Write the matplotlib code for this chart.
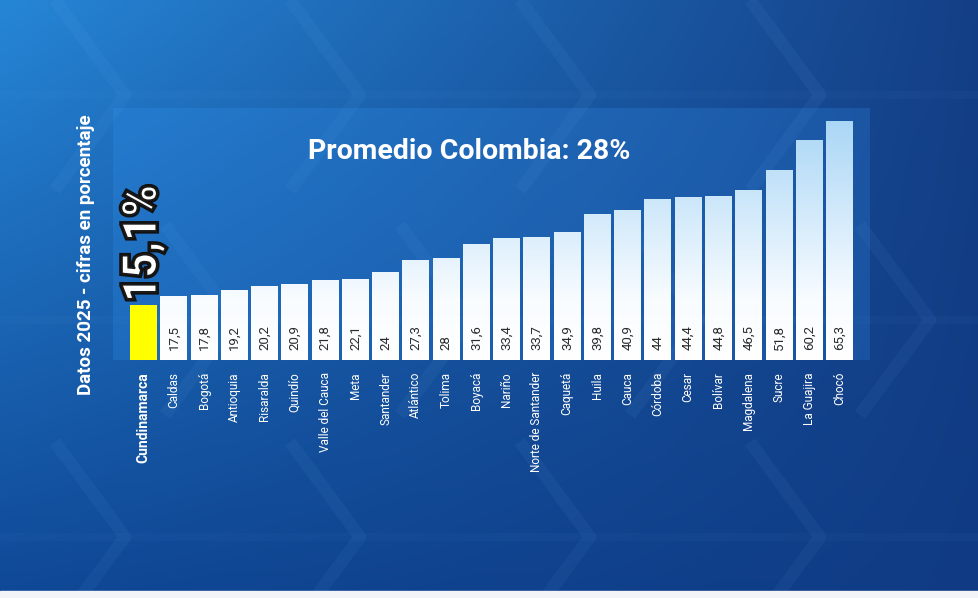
import numpy as np
import matplotlib.pyplot as plt
import matplotlib.patheffects as pe
from matplotlib import font_manager
from matplotlib.colors import LinearSegmentedColormap, to_rgb
from matplotlib.textpath import TextPath
from matplotlib.patches import PathPatch
from matplotlib.transforms import Affine2D

departamentos = ['Cundinamarca', 'Caldas', 'Bogotá', 'Antioquia', 'Risaralda', 'Quindío',
                 'Valle del Cauca', 'Meta', 'Santander', 'Atlántico', 'Tolima', 'Boyacá',
                 'Nariño', 'Norte de Santander', 'Caquetá', 'Huila', 'Cauca', 'Córdoba',
                 'Cesar', 'Bolívar', 'Magdalena', 'Sucre', 'La Guajira', 'Chocó']
valores = [15.1, 17.5, 17.8, 19.2, 20.2, 20.9, 21.8, 22.1, 24, 27.3, 28, 31.6,
           33.4, 33.7, 34.9, 39.8, 40.9, 44, 44.4, 44.8, 46.5, 51.8, 60.2, 65.3]
etiquetas = ['', '17,5', '17,8', '19,2', '20,2', '20,9', '21,8', '22,1', '24', '27,3', '28',
             '31,6', '33,4', '33,7', '34,9', '39,8', '40,9', '44', '44,4', '44,8', '46,5',
             '51,8', '60,2', '65,3']
promedio = 28
destacado = '15,1%'

names = {f.name for f in font_manager.fontManager.ttflist}
narrow = 'Liberation Sans Narrow' if 'Liberation Sans Narrow' in names else 'Roboto'
fam = [narrow, 'DejaVu Sans']

W, H = 979, 598
fig = plt.figure(figsize=(W / 100, H / 100), dpi=100)

# background
bg = fig.add_axes([0, 0, 1, 1])
bg.set_xlim(0, W)
bg.set_ylim(H, 0)
bg.axis('off')
tl, tr = np.array(to_rgb('#2686d6')), np.array(to_rgb('#143f86'))
bl, br = np.array(to_rgb('#0f4896')), np.array(to_rgb('#103b84'))
u = np.linspace(0, 1, 200)[None, :, None]
v = np.linspace(0, 1, 120)[:, None, None]
img = (1 - v) * ((1 - u) * tl + u * tr) + v * ((1 - u) * bl + u * br)
bg.imshow(img, extent=[0, W, H, 0], aspect='auto', interpolation='bicubic')
# faint chevrons
for cy in [95, 320, 537]:
    for cx in [125, 360, 590, 820]:
        off = 110 if cy == 320 else 0
        xc = cx + off
        bg.plot([xc - 70, xc, xc - 70], [cy - 95, cy, cy + 95], color='#7fc4ff',
                alpha=0.06, lw=9, solid_capstyle='butt')
    bg.plot([0, W], [cy, cy], color='#7fc4ff', alpha=0.03, lw=6)
bg.add_patch(plt.Rectangle((0, 591), W, 7, color='#f2f4f7', zorder=5))

# chart
base_px, top_px = 360, 108
left_px, right_px = 113, 870
step = (839.5 - 143.5) / 23
x0l = -(143.5 - left_px) / step
x0r = (right_px - 143.5) / step
ax = fig.add_axes([left_px / W, (H - base_px) / H, (right_px - left_px) / W,
                   (base_px - top_px) / H])
ax.set_facecolor((0.22, 0.62, 1.0, 0.2))
for s in ax.spines.values():
    s.set_visible(False)
ax.set_xticks([])
ax.set_yticks([])
x = np.arange(len(valores))

cmap = LinearSegmentedColormap.from_list('b', [(0, '#ffffff'), (0.25, '#f8fcff'), (1, '#a9d6f6')])
grad = np.linspace(0, 1, 256)[:, None]
colors = ['#ffff00'] + [None] * (len(valores) - 1)
bars = ax.bar(x, valores, width=0.89, color='none', edgecolor='none')
for b, c in zip(bars, colors):
    if c is not None:
        b.set_facecolor(c)
        continue
    im = ax.imshow(grad, extent=[x0l, x0r, 0, 66], origin='lower', cmap=cmap,
                   aspect='auto', zorder=2)
    im.set_clip_path(b)
ax.set_xlim(x0l, x0r)
ax.set_ylim(0, (base_px - top_px) / 3.66)

for xi, t in zip(x, etiquetas):
    if t:
        ax.text(xi, 2.6, t, rotation=90, ha='center', va='bottom', fontsize=9.5,
                color='#2b2b2b', family=fam, zorder=3)

for xi, name in zip(x, departamentos):
    bold = xi == 0
    ax.text(xi, -3.3, name, rotation=90, ha='center', va='top', color='white',
            fontsize=10 if bold else 8.5, fontweight='bold' if bold else 'normal',
            family=fam, clip_on=False)

# condensed big label above the highlighted bar
tp = TextPath((0, 0), destacado, size=1,
              prop=font_manager.FontProperties(family='Roboto', weight='black'))
e = tp.get_extents()
length, height = 112, 44
bx, by = ax.transData.transform((0, valores[0]))
tr_big = (Affine2D().translate(-e.x0, -e.y0)
          .scale(length / e.width, height / e.height)
          .rotate_deg(90)
          .translate(bx + height / 2, by + 6))
big = PathPatch(tp, transform=tr_big, facecolor='white', edgecolor='#1a1a1a', lw=1.2,
                clip_on=False, zorder=6)
big.set_path_effects([pe.withStroke(linewidth=4, foreground='#111111'), pe.Normal()])
fig.add_artist(big)

ax.text((469 - 143.5) / step, 57, f'Promedio Colombia: {promedio}%', ha='center',
        va='center', fontsize=20.5, fontweight='bold', color='white', family=fam)

fig.text(86 / W, 1 - 255 / H, 'Datos 2025 - cifras en porcentaje', rotation=90,
         ha='center', va='center', fontsize=13.5, fontweight='bold', color='white',
         family=fam)

fig.savefig('out.png', dpi=100)
